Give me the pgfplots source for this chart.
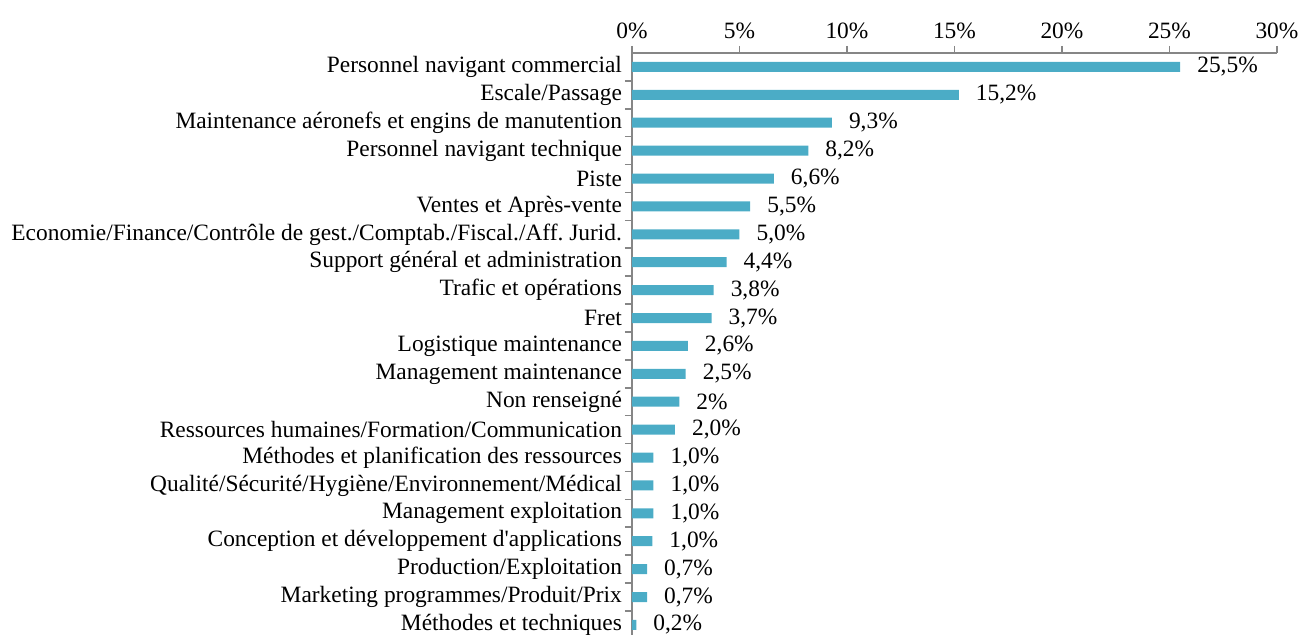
\documentclass[border=0pt]{standalone}
\usepackage{pgfplots}
\pgfplotsset{compat=1.18}
\usepackage{fontspec}
\setmainfont{Liberation Serif}[Ligatures=TeXOff]
\frenchspacing
\definecolor{barblue}{HTML}{4BACC6}
\definecolor{axgray}{HTML}{868686}
\begin{document}
\frenchspacing
\begin{tikzpicture}
\useasboundingbox (-316pt,0pt) rectangle (333pt,317.5pt);
\begin{axis}[
  at={(0,0)}, anchor=south west,
  scale only axis, width=322.5pt, height=291pt,
  xmin=0, xmax=30, ymin=-0.5, ymax=20.36, y dir=reverse,
  axis x line*=top, axis y line*=left,
  axis line style={draw=axgray, line width=0.8pt},
  tick align=outside,
  xtick={0,5,...,30},
  xticklabel={\pgfmathprintnumber{\tick}\%},
  /pgf/number format/assume math mode=true,
  x tick style={draw=axgray, line width=0.8pt},
  major tick length=3.5pt,
  ytick={0,...,20},
  major y tick style={draw=none},
  minor ytick={0.5,1.5,...,19.5},
  minor y tick style={draw=axgray, line width=0.8pt},
  minor tick length=3.5pt,
  yticklabels={
    Personnel navigant commercial,
    Escale/Passage,
    Maintenance aéronefs et engins de manutention,
    Personnel navigant technique,
    Piste,
    Ventes et Après-vente,
    Economie/Finance/Contrôle de gest./Comptab./Fiscal./Aff. Jurid.,
    Support général et administration,
    Trafic et opérations,
    Fret,
    Logistique maintenance,
    Management maintenance,
    Non renseigné,
    Ressources humaines/Formation/Communication,
    Méthodes et planification des ressources,
    Qualité/Sécurité/Hygiène/Environnement/Médical,
    Management exploitation,
    Conception et développement d'applications,
    Production/Exploitation,
    Marketing programmes/Produit/Prix,
    Méthodes et techniques},
  tick label style={font=\fontsize{11.7pt}{13pt}\selectfont\frenchspacing, text=black},
  yticklabel style={xshift=2pt},
  clip=false,
]
\addplot[xbar, fill=barblue, draw=none, bar width=5pt,
  nodes near coords={\pgfplotspointmeta\%},
  point meta=explicit symbolic,
  nodes near coords style={anchor=west, xshift=5pt, font=\fontsize{11.7pt}{13pt}\selectfont, text=black}]
table[x=v, y=i, meta=lab] {
i v lab
0 25.5 25,5
1 15.2 15,2
2 9.3 9,3
3 8.2 8,2
4 6.6 6,6
5 5.5 5,5
6 5.0 5,0
7 4.4 4,4
8 3.8 3,8
9 3.7 3,7
10 2.6 2,6
11 2.5 2,5
12 2.2 2
13 2.0 2,0
14 1.0 1,0
15 1.0 1,0
16 1.0 1,0
17 0.95 1,0
18 0.7 0,7
19 0.7 0,7
20 0.2 0,2
};
\end{axis}
\end{tikzpicture}
\end{document}
